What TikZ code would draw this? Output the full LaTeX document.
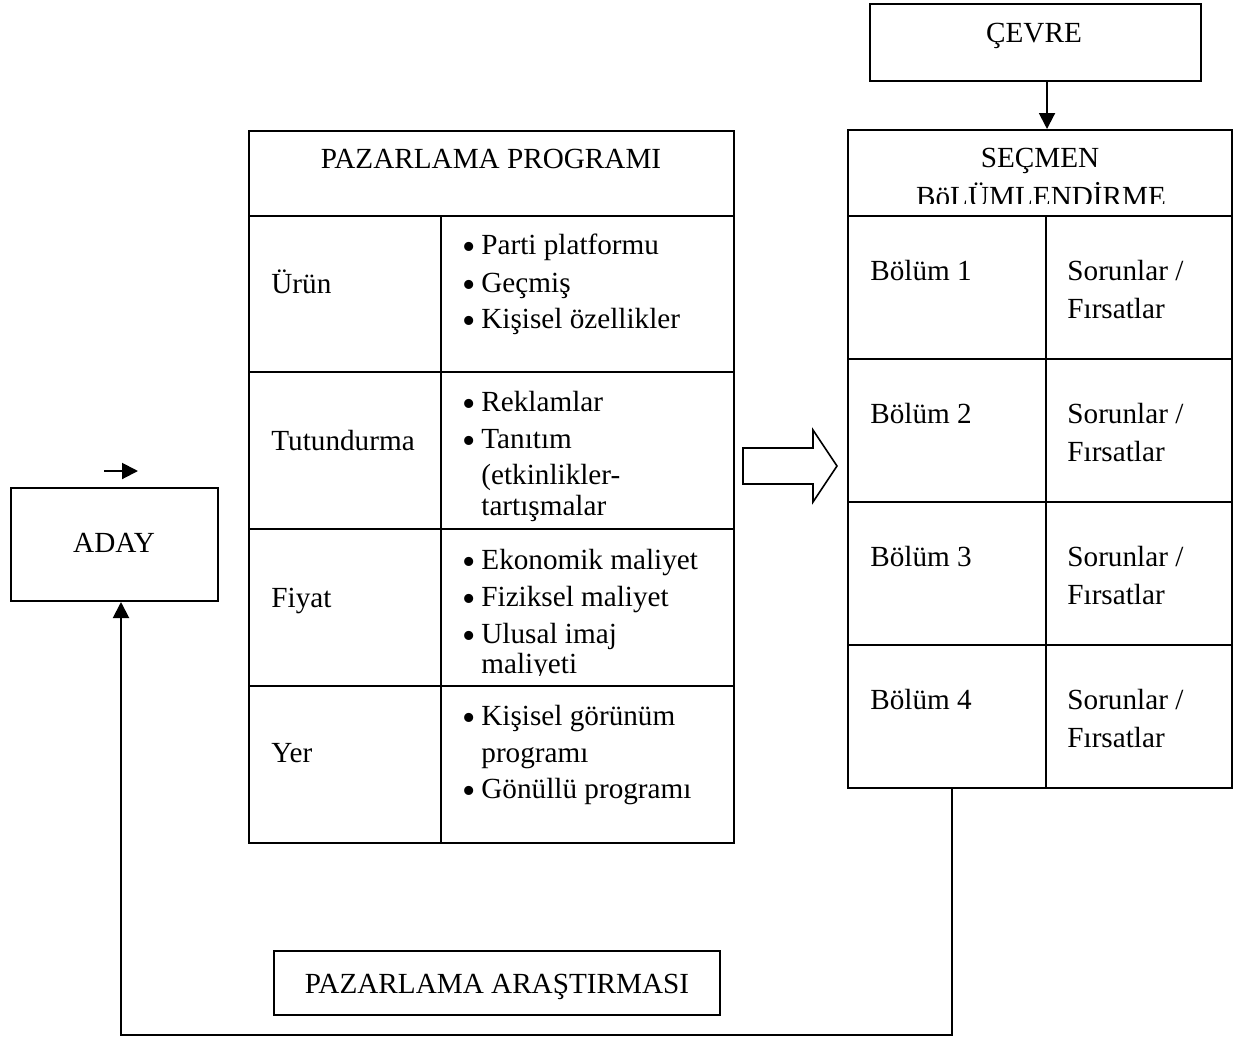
\documentclass[tikz,border=0pt]{standalone}
\usepackage{fontspec}
\setmainfont{Liberation Serif}
\usetikzlibrary{arrows.meta}
\newcommand{\myblt}{\makebox[11.5pt][l]{\hspace{2pt}\smash{\raisebox{-2.8pt}{\fontsize{19}{19}\selectfont\textbullet}}}}
\begin{document}
\begin{tikzpicture}[x=0.5pt,y=-0.5pt,
  box/.style={draw, line width=1pt, inner sep=0pt, rectangle},
  txt/.style={inner sep=0pt, font=\fontsize{14.6}{18.5}\selectfont},
  gridline/.style={line width=1pt},
  arr/.style={line width=1pt, -{Triangle[length=8pt,width=8pt]}},
]
\useasboundingbox (0,0) rectangle (1245,1039);

% ---- boxes ----
\node[box, minimum width=165.5pt, minimum height=38.5pt] (cevre) at (1035.5,42.5) {};
\node[txt, anchor=base] (cevret) at (1034,42) {ÇEVRE};

\node[box, minimum width=192pt, minimum height=329pt] (secmen) at (1040,459) {};
\node[box, minimum width=242.5pt, minimum height=356pt] (prog) at (491.5,487) {};
\node[box, minimum width=103.5pt, minimum height=56.5pt] (aday) at (114.5,544.5) {};
\node[txt, anchor=base] (adayt) at (114,552) {ADAY};
\node[box, line width=0.75pt, minimum width=223pt, minimum height=32pt] (aras) at (497,983) {};
\node[txt, anchor=base] (arast) at (497,993) {PAZARLAMA ARAŞTIRMASI};

% ---- program table ----
\draw[gridline] (249,216) -- (734,216);
\draw[gridline] (249,372) -- (734,372);
\draw[gridline] (249,529) -- (734,529);
\draw[gridline] (249,686) -- (734,686);
\draw[gridline] (441,216) -- (441,843);
\node[txt, anchor=base] (ph) at (491,168) {PAZARLAMA PROGRAMI};

\node[txt, anchor=base west] (l1) at (271,293) {Ürün};
\node[txt, anchor=base west] (l2) at (271,450) {Tutundurma};
\node[txt, anchor=base west] (l3) at (271,607) {Fiyat};
\node[txt, anchor=base west] (l4) at (271,762) {Yer};

\node[txt, anchor=base west] (r11) at (458,254) {\myblt Parti platformu};
\node[txt, anchor=base west] (r12) at (458,292) {\myblt Geçmiş};
\node[txt, anchor=base west] (r13) at (458,328) {\myblt Kişisel özellikler};

\node[txt, anchor=base west] (r21) at (458,411) {\myblt Reklamlar};
\node[txt, anchor=base west] (r22) at (458,448) {\myblt Tanıtım};
\node[txt, anchor=base west] (r23) at (481,484) {(etkinlikler-};
\node[txt, anchor=base west] (r24) at (481,515) {tartışmalar};

\node[txt, anchor=base west] (r31) at (458,569) {\myblt Ekonomik maliyet};
\node[txt, anchor=base west] (r32) at (458,606) {\myblt Fiziksel maliyet};
\node[txt, anchor=base west] (r33) at (458,643) {\myblt Ulusal imaj};
\begin{scope}
  \clip (442,600) rectangle (733,675);
  \node[txt, anchor=base west] (r34) at (481,673) {maliyeti};
\end{scope}

\node[txt, anchor=base west] (r41) at (458,725) {\myblt Kişisel görünüm};
\node[txt, anchor=base west] (r42) at (481,762) {programı};
\node[txt, anchor=base west] (r43) at (458,798) {\myblt Gönüllü programı};

% ---- secmen table ----
\draw[gridline] (848,216) -- (1232,216);
\draw[gridline] (848,359) -- (1232,359);
\draw[gridline] (848,502) -- (1232,502);
\draw[gridline] (848,645) -- (1232,645);
\draw[gridline] (1046,216) -- (1046,788);
\node[txt, anchor=base] (sh1) at (1040,167) {SEÇMEN};
\begin{scope}
  \clip (849,170) rectangle (1231,203);
  \node[txt, anchor=base] (sh2) at (1041,206) {BöLÜMLENDİRME};
\end{scope}

\foreach \i/\y in {1/280,2/423,3/566,4/709}{
  \node[txt, anchor=base west] (b\i) at (870,\y) {Bölüm \i};
  \node[txt, anchor=base west] (s\i) at (1067,\y) {Sorunlar /};
  \node[txt, anchor=base west] (f\i) at (1067,\y+38) {Fırsatlar};
}

% ---- connectors ----
\coordinate (cvx) at (1047,0);
\draw[arr] (cevre.south -| cvx) -- (secmen.north -| cvx);

\draw[line width=0.8pt, line join=miter]
  (743,448) -- (813,448) -- (813,430) -- (837,466) -- (813,502) -- (813,484) -- (743,484) -- cycle;

\coordinate (fbr) at (952,1035);
\coordinate (fbl) at (121,1035);
\draw[arr] (secmen.south -| fbr) -- (fbr) -- (fbl) -- (aday.south -| fbl);

\coordinate (sa1) at (104,471);
\coordinate (sa2) at (138,471);
\draw[arr] (sa1) -- (sa2);
\end{tikzpicture}
\end{document}
